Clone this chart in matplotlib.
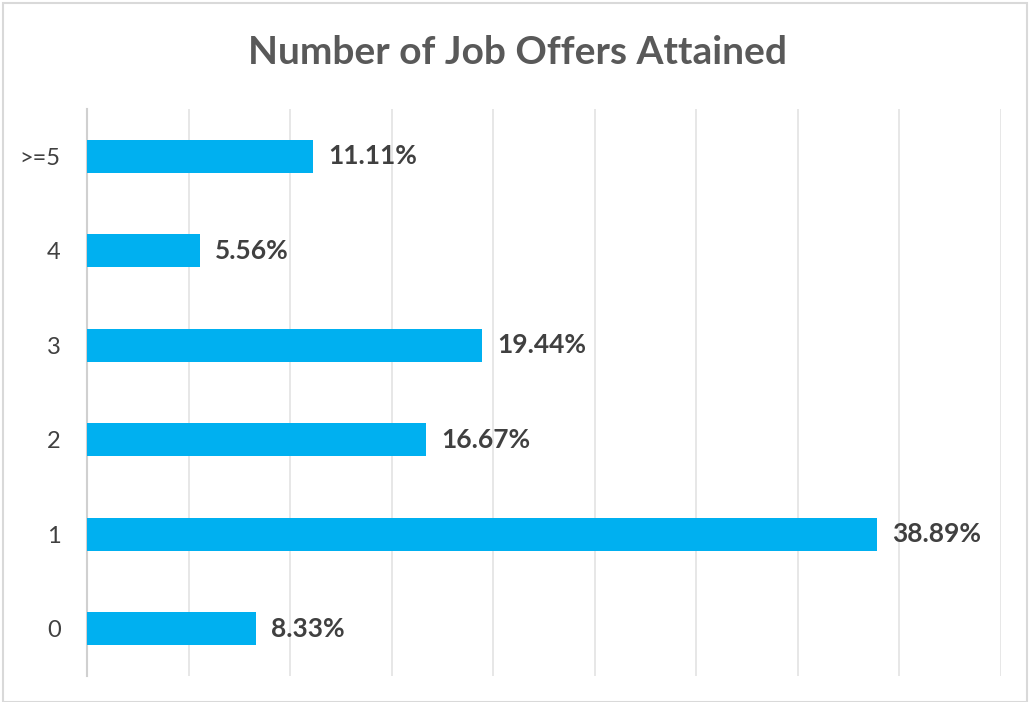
import matplotlib
matplotlib.use("Agg")
import matplotlib.pyplot as plt
from matplotlib.patches import Rectangle

categories = ["0", "1", "2", "3", "4", ">=5"]
values = [8.33, 38.89, 16.67, 19.44, 5.56, 11.11]
title = "Number of Job Offers Attained"

plt.rcParams['font.family'] = ['Lato', 'DejaVu Sans']

W, H = 1030, 702
fig = plt.figure(figsize=(W / 100, H / 100), dpi=100)
fig.patches.append(Rectangle((3 / W, 0), (W - 6) / W, (H - 3) / H, transform=fig.transFigure,
                             fill=False, edgecolor="#d9d9d9", linewidth=1.5))

ax = fig.add_axes([87 / W, 1 - 676 / H, (1001 - 87) / W, (676 - 109) / H])
y = list(range(len(categories)))
ax.barh(y, values, height=0.35, color="#00B0F0", zorder=3)
ax.set_xlim(0, 45)
ax.set_ylim(-0.5, 5.5)
ax.set_xticks(range(0, 46, 5))
ax.set_xticklabels([])
ax.tick_params(axis="x", length=0)
ax.set_yticks(y)
ax.set_yticklabels(categories, fontsize=17, color="#404040")
ax.tick_params(axis="y", length=0, pad=19)
ax.grid(axis="x", color="#e3e3e3", linewidth=1.2, zorder=0)
for s in ["top", "right", "bottom"]:
    ax.spines[s].set_visible(False)
ax.spines["left"].set_color("#d0d0d0")
ax.spines["left"].set_linewidth(1.5)

for yi, v in zip(y, values):
    ax.text(v + 0.75, yi, f"{v:.2f}%", va="center", ha="left", fontsize=19,
            fontweight="bold", color="#404040", zorder=4)

fig.text(517 / W, 1 - 52 / H, title, ha="center", va="center", fontsize=28,
         fontweight="bold", color="#595959")

fig.savefig("out.png", dpi=100)
